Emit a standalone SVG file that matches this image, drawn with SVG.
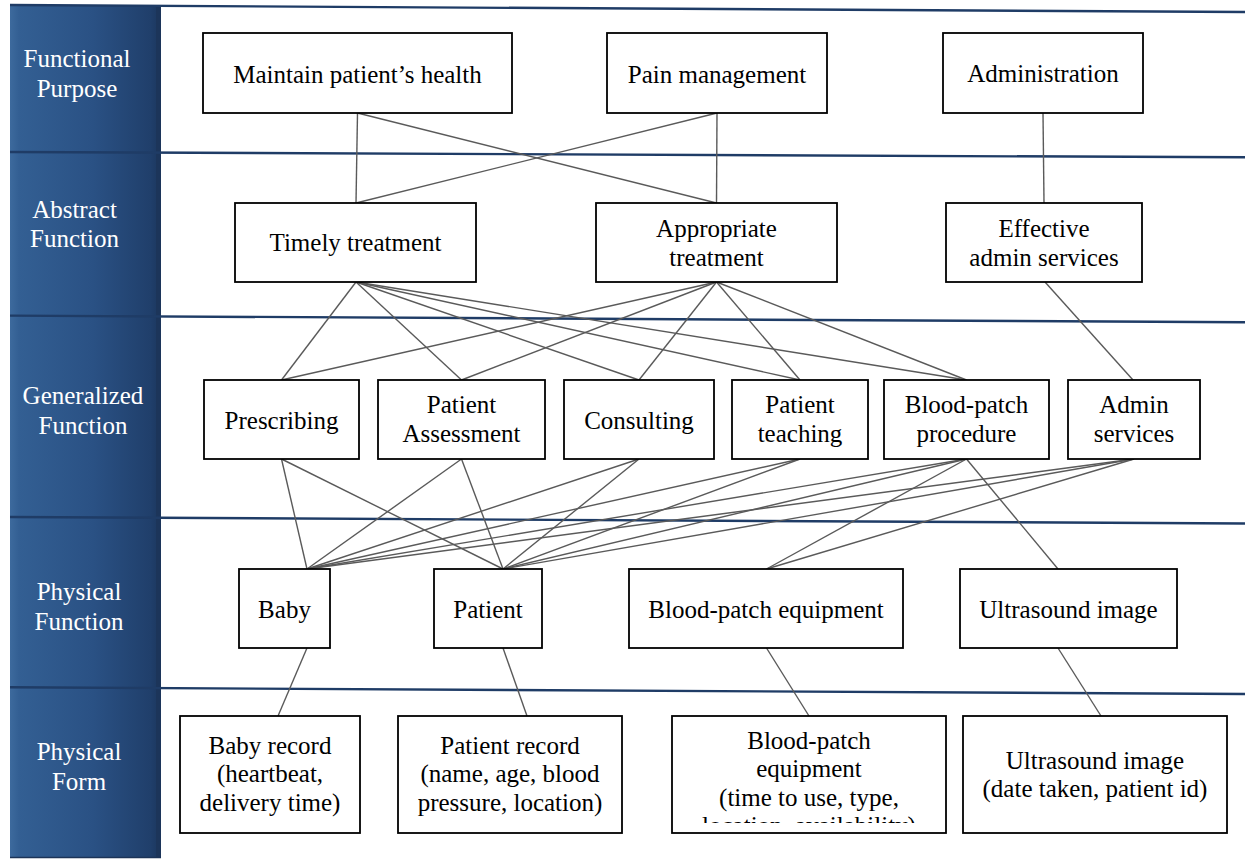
<svg xmlns="http://www.w3.org/2000/svg" width="1245" height="860" viewBox="0 0 1245 860">
  <defs>
    <linearGradient id="barFill" x1="0" y1="0" x2="1" y2="0">
      <stop offset="0" stop-color="#3d6a9d"/>
      <stop offset="0.06" stop-color="#335f93"/>
      <stop offset="0.55" stop-color="#2a5184"/>
      <stop offset="0.93" stop-color="#203f6b"/>
      <stop offset="1" stop-color="#1b365d"/>
    </linearGradient>
    <linearGradient id="footFade" x1="0" y1="0" x2="1" y2="0">
      <stop offset="0" stop-color="#8193aa"/>
      <stop offset="1" stop-color="#ffffff"/>
    </linearGradient>
    <clipPath id="clipBpeRec">
      <rect x="672" y="716" width="274" height="107"/>
    </clipPath>
    <style>
      .node rect { fill: #ffffff; stroke: #000000; stroke-width: 1.8; }
      .node text { font-size: 25px; fill: #000000; text-anchor: middle; }
      .band text { font-size: 25px; fill: #ffffff; text-anchor: middle; }
      .sep { stroke: #1f3c66; stroke-width: 2.4; fill: none; }
      #connectors line { stroke: #5a5a5a; stroke-width: 1.4; }
    </style>
  </defs>

  <rect x="0" y="0" width="1245" height="860" fill="#ffffff"/>

  <!-- level bar on the left -->
  <g id="level-bar">
    <rect x="10" y="5" width="151" height="853" fill="url(#barFill)"/>
    <rect x="156" y="5" width="5" height="853" fill="#1c355a"/>
    <line x1="161" y1="858" x2="300" y2="858" stroke="url(#footFade)" stroke-width="2"/>
    <line x1="10" y1="857.5" x2="161" y2="857.5" stroke="#1c3458" stroke-width="1.5"/>
  </g>

  <!-- band separators -->
  <g id="separators">
    <line class="sep" x1="10" y1="5" x2="1245" y2="12"/>
    <line class="sep" x1="10" y1="152" x2="1245" y2="157.3"/>
    <line class="sep" x1="10" y1="315.6" x2="1245" y2="322.3"/>
    <line class="sep" x1="10" y1="517" x2="1245" y2="523.5"/>
    <line class="sep" x1="10" y1="687.3" x2="1245" y2="694"/>
  </g>

  <g font-family="'Liberation Serif', 'DejaVu Serif', serif">
  <!-- level labels -->
  <g class="band" id="band-labels">
    <text x="77" y="67">Functional</text>
    <text x="77" y="97">Purpose</text>
    <text x="74.5" y="217.5">Abstract</text>
    <text x="74.5" y="247">Function</text>
    <text x="83" y="403.5">Generalized</text>
    <text x="83" y="433.5">Function</text>
    <text x="79" y="600">Physical</text>
    <text x="79" y="629.5">Function</text>
    <text x="79" y="759.5">Physical</text>
    <text x="79" y="790">Form</text>
  </g>

  <!-- connectors -->
  <g id="connectors">
    <line x1="357.5" y1="113" x2="356" y2="203"/>
    <line x1="357.5" y1="113" x2="716.5" y2="203"/>
    <line x1="717" y1="113" x2="356" y2="203"/>
    <line x1="717" y1="113" x2="716.5" y2="203"/>
    <line x1="1043" y1="113" x2="1044" y2="203"/>

    <line x1="356" y1="282" x2="281.5" y2="380"/>
    <line x1="356" y1="282" x2="461.5" y2="380"/>
    <line x1="356" y1="282" x2="639" y2="380"/>
    <line x1="356" y1="282" x2="800" y2="380"/>
    <line x1="356" y1="282" x2="966.5" y2="380"/>
    <line x1="716.5" y1="282" x2="281.5" y2="380"/>
    <line x1="716.5" y1="282" x2="461.5" y2="380"/>
    <line x1="716.5" y1="282" x2="639" y2="380"/>
    <line x1="716.5" y1="282" x2="800" y2="380"/>
    <line x1="716.5" y1="282" x2="966.5" y2="380"/>
    <line x1="1045" y1="282" x2="1133" y2="380"/>

    <line x1="281.5" y1="459" x2="307" y2="569"/>
    <line x1="281.5" y1="459" x2="503" y2="569"/>
    <line x1="461.5" y1="459" x2="307" y2="569"/>
    <line x1="461.5" y1="459" x2="503" y2="569"/>
    <line x1="639" y1="459" x2="307" y2="569"/>
    <line x1="639" y1="459" x2="503" y2="569"/>
    <line x1="800" y1="459" x2="307" y2="569"/>
    <line x1="800" y1="459" x2="503" y2="569"/>
    <line x1="966.5" y1="459" x2="307" y2="569"/>
    <line x1="966.5" y1="459" x2="503" y2="569"/>
    <line x1="1134" y1="459" x2="307" y2="569"/>
    <line x1="1134" y1="459" x2="503" y2="569"/>
    <line x1="966.5" y1="459" x2="766.5" y2="569"/>
    <line x1="1134" y1="459" x2="766.5" y2="569"/>
    <line x1="966.5" y1="459" x2="1058" y2="569"/>

    <line x1="307" y1="648" x2="278" y2="716"/>
    <line x1="503" y1="648" x2="527" y2="716"/>
    <line x1="766.5" y1="648" x2="809" y2="716"/>
    <line x1="1058" y1="648" x2="1101" y2="716"/>
  </g>

  <!-- functional purpose -->
  <g class="node" id="n-maintain-health">
    <rect x="203" y="33" width="309" height="80"/>
    <text x="357.5" y="83">Maintain patient’s health</text>
  </g>
  <g class="node" id="n-pain-management">
    <rect x="607" y="33" width="220" height="80"/>
    <text x="717" y="83">Pain management</text>
  </g>
  <g class="node" id="n-administration">
    <rect x="943" y="33" width="200" height="80"/>
    <text x="1043" y="82">Administration</text>
  </g>

  <!-- abstract function -->
  <g class="node" id="n-timely-treatment">
    <rect x="235" y="203" width="241" height="79"/>
    <text x="355.5" y="251">Timely treatment</text>
  </g>
  <g class="node" id="n-appropriate-treatment">
    <rect x="596" y="203" width="241" height="79"/>
    <text x="716.5" y="236.5">Appropriate</text>
    <text x="716.5" y="265.5">treatment</text>
  </g>
  <g class="node" id="n-effective-admin">
    <rect x="946" y="203" width="196" height="79"/>
    <text x="1044" y="236.5">Effective</text>
    <text x="1044" y="265.5">admin services</text>
  </g>

  <!-- generalized function -->
  <g class="node" id="n-prescribing">
    <rect x="204" y="380" width="155" height="79"/>
    <text x="281.5" y="428.5">Prescribing</text>
  </g>
  <g class="node" id="n-patient-assessment">
    <rect x="378" y="380" width="167" height="79"/>
    <text x="461.5" y="413">Patient</text>
    <text x="461.5" y="442">Assessment</text>
  </g>
  <g class="node" id="n-consulting">
    <rect x="564" y="380" width="150" height="79"/>
    <text x="639" y="428.5">Consulting</text>
  </g>
  <g class="node" id="n-patient-teaching">
    <rect x="732" y="380" width="136" height="79"/>
    <text x="800" y="413">Patient</text>
    <text x="800" y="442">teaching</text>
  </g>
  <g class="node" id="n-bloodpatch-procedure">
    <rect x="884" y="380" width="165" height="79"/>
    <text x="966.5" y="413">Blood-patch</text>
    <text x="966.5" y="442">procedure</text>
  </g>
  <g class="node" id="n-admin-services">
    <rect x="1068" y="380" width="132" height="79"/>
    <text x="1134" y="413">Admin</text>
    <text x="1134" y="442">services</text>
  </g>

  <!-- physical function -->
  <g class="node" id="n-baby">
    <rect x="239" y="569" width="91" height="79"/>
    <text x="284.5" y="618">Baby</text>
  </g>
  <g class="node" id="n-patient">
    <rect x="434" y="569" width="108" height="79"/>
    <text x="488" y="618">Patient</text>
  </g>
  <g class="node" id="n-bloodpatch-equipment">
    <rect x="629" y="569" width="274" height="79"/>
    <text x="766" y="618">Blood-patch equipment</text>
  </g>
  <g class="node" id="n-ultrasound-image">
    <rect x="960" y="569" width="217" height="79"/>
    <text x="1068.5" y="618">Ultrasound image</text>
  </g>

  <!-- physical form -->
  <g class="node" id="n-baby-record">
    <rect x="180" y="716" width="180" height="117"/>
    <text x="270" y="753.5">Baby record</text>
    <text x="270" y="782">(heartbeat,</text>
    <text x="270" y="810.5">delivery time)</text>
  </g>
  <g class="node" id="n-patient-record">
    <rect x="398" y="716" width="224" height="117"/>
    <text x="510" y="753.5">Patient record</text>
    <text x="510" y="782">(name, age, blood</text>
    <text x="510" y="810.5">pressure, location)</text>
  </g>
  <g class="node" id="n-bloodpatch-equipment-record">
    <rect x="672" y="716" width="274" height="117"/>
    <g clip-path="url(#clipBpeRec)">
      <text x="809" y="748.5">Blood-patch</text>
      <text x="809" y="777">equipment</text>
      <text x="809" y="805.5">(time to use, type,</text>
      <text x="809" y="834">location, availability)</text>
    </g>
  </g>
  <g class="node" id="n-ultrasound-record">
    <rect x="963" y="716" width="264" height="117"/>
    <text x="1095" y="768.5">Ultrasound image</text>
    <text x="1095" y="797">(date taken, patient id)</text>
  </g>
  </g>
</svg>
